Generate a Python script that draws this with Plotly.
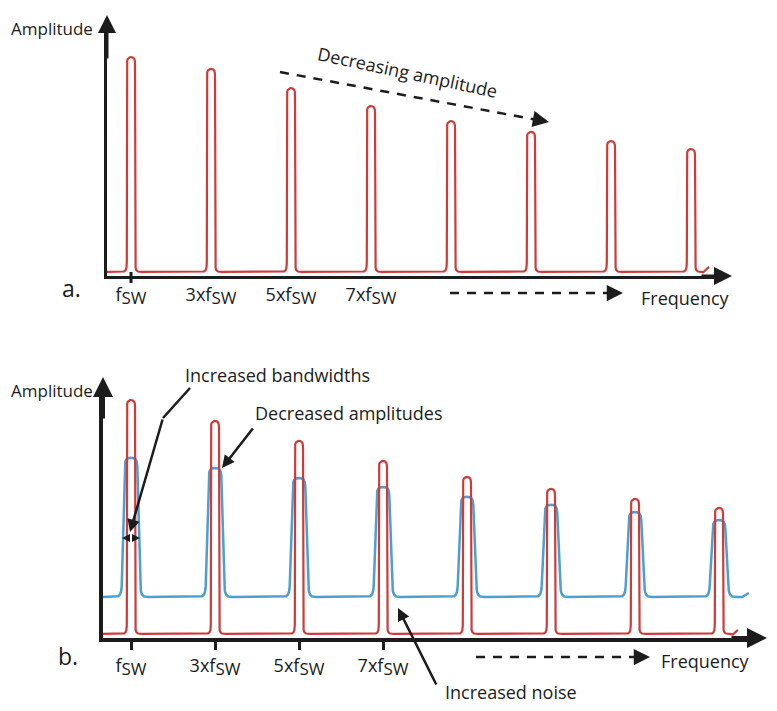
import plotly.graph_objects as go
from plotly.subplots import make_subplots

# ---------------- data ----------------
HARMONICS = [1, 3, 5, 7, 9, 11, 13, 15]
TICK_VALS = [1, 3, 5, 7]
TICK_TEXT = ["f<sub><span style='font-size:17px'>SW</span></sub>",
             "3xf<sub><span style='font-size:17px'>SW</span></sub>",
             "5xf<sub><span style='font-size:17px'>SW</span></sub>",
             "7xf<sub><span style='font-size:17px'>SW</span></sub>"]

# panel a: single spectrum, amplitude falls with harmonic number
A_RED_PEAK = [85.5, 80.9, 73.4, 66.4, 60.5, 56.3, 52.7, 49.6]
A_RED_FLOOR = 1.6

# panel b: narrow (red) vs. spread (blue) spectrum
B_RED_PEAK = [92.2, 84.1, 76.4, 68.6, 62.4, 57.8, 53.9, 50.4]
B_RED_FLOOR = 1.6
B_BLUE_PEAK = [69.8, 65.9, 62.0, 58.5, 54.7, 51.6, 48.8, 45.7]
B_BLUE_FLOOR = 15.9

RED = "#cf3a3a"
BLUE = "#4aa0cf"
INK = "#1c1c1c"
FONT = "Open Sans"
W, H = 777, 711


def px(x):
    return x / W


def py(y):
    return 1 - y / H


# peak outline (pixels): foot part measured from the floor, cap part from the top
RED_FOOT = [(-11, 0), (-7, 0.4), (-5.5, 1.5), (-4.6, 4), (-4.2, 9)]
RED_CAP = [(-4.0, -7), (-3.8, -3.5), (-3.2, -1.7), (-2.2, -0.6), (-1, -0.1), (0, 0)]
BLUE_FOOT = [(-17, 0), (-13, 0.6), (-11, 2.5), (-9.8, 6), (-9.3, 11)]
BLUE_CAP = [(-6.3, -8), (-5.7, -3.8), (-4.6, -1.6), (-2.8, -0.4), (0, 0)]


def spectrum(peaks, floor, x_start, tail, foot, cap, kx, ky):
    xs, ys = [x_start], [floor]
    for c, p in zip(HARMONICS, peaks):
        for dx, dy in foot:
            xs.append(c + dx / kx); ys.append(floor + dy / ky)
        for dx, dy in cap:
            xs.append(c + dx / kx); ys.append(p + dy / ky)
        for dx, dy in reversed(cap):
            xs.append(c - dx / kx); ys.append(p + dy / ky)
        for dx, dy in reversed(foot):
            xs.append(c - dx / kx); ys.append(floor + dy / ky)
    for tx, ty in tail:
        xs.append(tx); ys.append(floor + ty / ky)
    return xs, ys


fig = make_subplots(rows=2, cols=1)

# ---- panel a ----
ka_x, ka_y = 40, 2.56
xa, ya = spectrum(A_RED_PEAK, A_RED_FLOOR, 0.4, [(15.3, -0.6), (15.45, 5)],
                  RED_FOOT, RED_CAP, ka_x, ka_y)
fig.add_trace(go.Scatter(x=xa, y=ya, mode="lines", line=dict(color=RED, width=2.2),
                         hoverinfo="skip", showlegend=False), row=1, col=1)

# ---- panel b ----
kb_x, kb_y = 42, 2.58
xb, yb = spectrum(B_BLUE_PEAK, B_BLUE_FLOOR, 0.333, [(15.55, 0), (15.71, 4)],
                  BLUE_FOOT, BLUE_CAP, kb_x, kb_y)
fig.add_trace(go.Scatter(x=xb, y=yb, mode="lines", line=dict(color=BLUE, width=2.5),
                         hoverinfo="skip", showlegend=False), row=2, col=1)
xr, yr = spectrum(B_RED_PEAK, B_RED_FLOOR, 0.333, [(15.33, -0.6), (15.45, 4)],
                  RED_FOOT, RED_CAP, kb_x, kb_y)
fig.add_trace(go.Scatter(x=xr, y=yr, mode="lines", line=dict(color=RED, width=2.2),
                         hoverinfo="skip", showlegend=False), row=2, col=1)

axis_common = dict(showgrid=False, zeroline=False, showline=True, linecolor=INK,
                   mirror=False, fixedrange=True)
fig.update_xaxes(axis_common)
fig.update_yaxes(axis_common)

fig.update_xaxes(domain=[px(107), px(722)], range=[0.4, 15.775], linewidth=3,
                 tickvals=TICK_VALS, ticktext=TICK_TEXT, ticks="",
                 tickfont=dict(family=FONT, size=18, color=INK), row=1, col=1)
fig.update_yaxes(domain=[py(276), py(30)], range=[0, 96.1], linewidth=3,
                 showticklabels=False, ticks="", row=1, col=1)
fig.update_xaxes(domain=[px(103), px(757)], range=[0.333, 15.905], linewidth=4,
                 tickvals=TICK_VALS, ticktext=TICK_TEXT, ticks="outside",
                 ticklen=8, tickwidth=3, tickcolor=INK,
                 tickfont=dict(family=FONT, size=18, color=INK), row=2, col=1)
fig.update_yaxes(domain=[py(638), py(390)], range=[0, 96.1], linewidth=4,
                 showticklabels=False, ticks="", row=2, col=1)

# single tick mark at f_SW on panel a
fig.add_shape(type="line", x0=1, x1=1, xref="x", y0=py(272), y1=py(283), yref="paper",
              line=dict(color=INK, width=3))


def label(x, y, text, size=18, angle=0, anchor="center"):
    fig.add_annotation(x=px(x), y=py(y), xref="paper", yref="paper", text=text,
                       showarrow=False, textangle=angle, xanchor=anchor, yanchor="middle",
                       font=dict(family=FONT, size=size, color=INK))


def arrow(tip, tail, width=2.5, head=2, size=1.0):
    fig.add_annotation(x=px(tip[0]), y=py(tip[1]), xref="paper", yref="paper",
                       ax=tail[0] - tip[0], ay=tail[1] - tip[1], axref="pixel", ayref="pixel",
                       text="", showarrow=True, arrowhead=head, arrowsize=size,
                       arrowwidth=width, arrowcolor=INK)


def dashed(p0, p1, width=2.5):
    fig.add_shape(type="line", xref="paper", yref="paper",
                  x0=px(p0[0]), y0=py(p0[1]), x1=px(p1[0]), y1=py(p1[1]),
                  line=dict(color=INK, width=width, dash="9px,8px"))


# axis arrowheads
arrow((107, 15), (107, 60), width=3, size=1.2)
arrow((732, 276), (700, 276), width=3, size=1.2)
arrow((103, 377), (103, 420), width=4, size=1.0)
arrow((767, 638), (730, 638), width=4, size=1.0)

# panel a text
label(9, 28, "Amplitude", size=17, anchor="left")
label(71, 288, "a.", size=23)
label(685, 298, "Frequency")
label(407, 72, "Decreasing amplitude", angle=12)
dashed((280, 72), (535, 119.5))
arrow((549, 122), (535, 119.4), width=2.5, size=1.3)
dashed((450, 293), (610, 293))
arrow((623, 293), (608, 293), width=2.5, size=1.3)

# panel b text
label(9, 390, "Amplitude", size=17, anchor="left")
label(68, 656, "b.", size=23)
label(705, 661, "Frequency")
dashed((476, 657), (636, 657))
arrow((650, 657), (635, 657), width=2.5, size=1.3)

label(183, 375, "Increased bandwidths", anchor="left")
fig.add_shape(type="line", xref="paper", yref="paper", x0=px(190), y0=py(388),
              x1=px(163), y1=py(418), line=dict(color=INK, width=2.5))
arrow((130, 532), (163, 418), width=2.5, size=1.0)
arrow((122, 538), (131, 538), width=2, size=0.8)
arrow((140, 538), (131, 538), width=2, size=0.8)

label(253, 413, "Decreased amplitudes", anchor="left")
arrow((222, 468), (254, 427), width=2.5, size=1.0)

label(443, 692, "Increased noise", anchor="left")
arrow((398, 608), (437, 686), width=2.5, size=1.0)

fig.update_layout(width=W, height=H, margin=dict(l=0, r=0, t=0, b=0),
                  plot_bgcolor="white", paper_bgcolor="white",
                  font=dict(family=FONT, color=INK), showlegend=False)

fig.write_html("out.html", config={"displayModeBar": False},
               post_script="document.body.style.margin='0';")
